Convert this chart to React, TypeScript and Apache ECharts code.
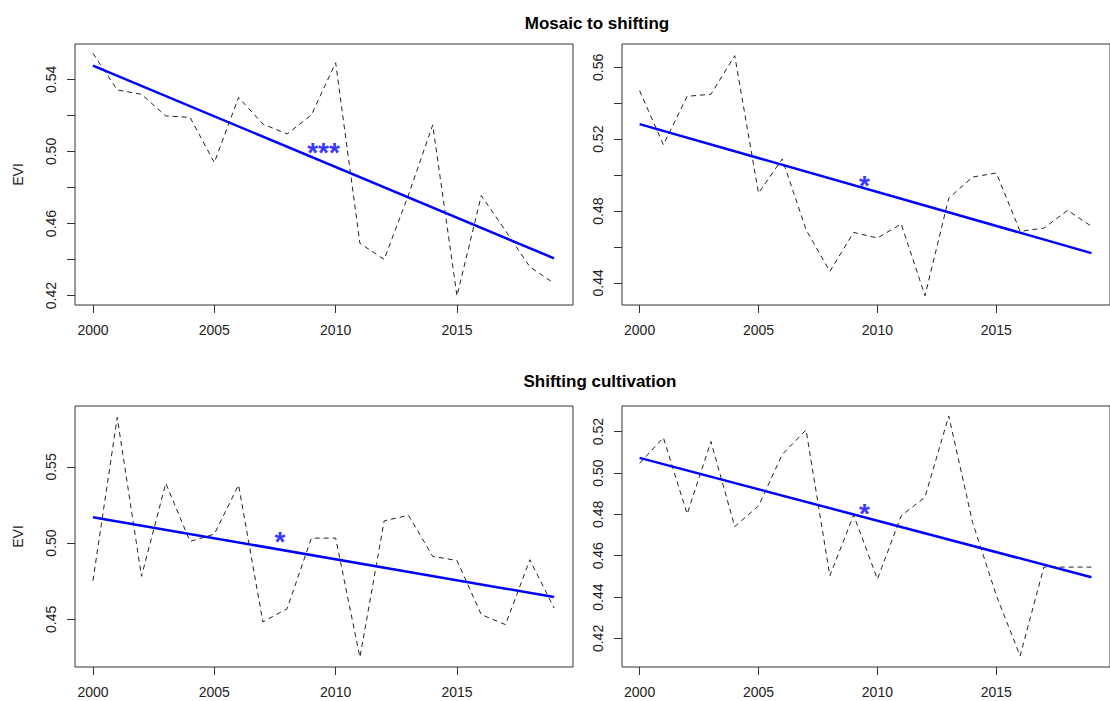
import React, { useEffect, useRef } from "react";
import * as echarts from "echarts";

const years = [2000, 2001, 2002, 2003, 2004, 2005, 2006, 2007, 2008, 2009, 2010, 2011, 2012, 2013, 2014, 2015, 2016, 2017, 2018, 2019];
const xTickYears = [2000, 2005, 2010, 2015];

const mosaicLeft = [0.5544, 0.5341, 0.5317, 0.5197, 0.5189, 0.4938, 0.53, 0.5152, 0.5097, 0.5202, 0.5492, 0.449, 0.4401, 0.4758, 0.5147, 0.4198, 0.4755, 0.456, 0.436, 0.4268];
const mosaicRight = [0.547, 0.5169, 0.5439, 0.545, 0.5665, 0.49, 0.509, 0.4696, 0.4464, 0.4681, 0.465, 0.4728, 0.4329, 0.4872, 0.4989, 0.5012, 0.4687, 0.4705, 0.4804, 0.4715];
const shiftLeft = [0.4753, 0.5825, 0.4782, 0.5393, 0.5011, 0.5059, 0.5382, 0.4483, 0.457, 0.5033, 0.5033, 0.4251, 0.5146, 0.5183, 0.4913, 0.4886, 0.4531, 0.4465, 0.4891, 0.4574];
const shiftRight = [0.5047, 0.5171, 0.4802, 0.5152, 0.4741, 0.4841, 0.509, 0.5208, 0.4503, 0.4797, 0.4487, 0.4793, 0.4883, 0.5276, 0.4762, 0.4408, 0.4116, 0.4545, 0.4545, 0.4545];

// trend line values at 2000 and 2019
const mosaicLeftTrend = [0.5476, 0.4407];
const mosaicRightTrend = [0.5284, 0.4566];
const shiftLeftTrend = [0.517, 0.4646];
const shiftRightTrend = [0.5073, 0.4496];

const sigLabels = ["***", "*", "*", "*"];
const sigPositions = [[2009.5, 0.503], [2009.45, 0.4975], [2007.7, 0.5048], [2009.45, 0.4834]];

const yRanges = [[0.4148, 0.5596], [0.4277, 0.573], [0.4187, 0.59], [0.4062, 0.5324]];
const yTicks = [
  [0.42, 0.44, 0.46, 0.48, 0.5, 0.52, 0.54],
  [0.44, 0.46, 0.48, 0.5, 0.52, 0.54, 0.56],
  [0.45, 0.5, 0.55],
  [0.42, 0.44, 0.46, 0.48, 0.5, 0.52],
];
const yLabels = [
  [0.42, 0.46, 0.5, 0.54],
  [0.44, 0.48, 0.52, 0.56],
  [0.45, 0.5, 0.55],
  [0.42, 0.44, 0.46, 0.48, 0.5, 0.52],
];
const titles = ["Mosaic to shifting", "Shifting cultivation"];
const yName = "EVI";

const FONT = '"Liberation Sans", Arial, sans-serif';

export default function App() {
  const ref = useRef<HTMLDivElement>(null);
  useEffect(() => {
    if (!ref.current) return;
    const chart = echarts.init(ref.current, null, { renderer: "svg" });
    const series = [mosaicLeft, mosaicRight, shiftLeft, shiftRight];
    const trends = [mosaicLeftTrend, mosaicRightTrend, shiftLeftTrend, shiftRightTrend];
    const lefts = [75, 622, 75, 622];
    const tops = [44, 44, 406, 406];
    const grid = lefts.map((l, i) => ({
      left: l,
      top: tops[i],
      width: 498,
      height: 261,
      show: true,
      borderColor: "#333",
      borderWidth: 1,
      backgroundColor: "transparent",
    }));
    const xAxis = lefts.map((_, i) => ({
      type: "value",
      gridIndex: i,
      min: 1999.26,
      max: 2019.78,
      splitLine: { show: false },
      axisLine: { show: false },
      axisTick: { show: true, length: 8, lineStyle: { color: "#333" }, customValues: xTickYears },
      axisLabel: {
        show: true,
        customValues: xTickYears,
        margin: 18,
        color: "#222",
        fontSize: 14,
        fontFamily: FONT,
        formatter: (v: number) => String(v),
      },
    }));
    const yAxis = lefts.map((_, i) => ({
      type: "value",
      gridIndex: i,
      min: yRanges[i][0],
      max: yRanges[i][1],
      splitLine: { show: false },
      axisLine: { show: false },
      name: i % 2 === 0 ? yName : "",
      nameLocation: "middle",
      nameGap: 50,
      nameRotate: 90,
      nameTextStyle: { color: "#222", fontSize: 14, fontFamily: FONT },
      axisTick: { show: true, length: 8, lineStyle: { color: "#333" }, customValues: yTicks[i] },
      axisLabel: {
        show: true,
        customValues: yLabels[i],
        rotate: 90,
        margin: 17,
        color: "#222",
        fontSize: 14,
        fontFamily: FONT,
        formatter: (v: number) => v.toFixed(2),
      },
    }));
    const s: any[] = [];
    series.forEach((vals, i) => {
      s.push({
        type: "line",
        xAxisIndex: i,
        yAxisIndex: i,
        data: years.map((y, k) => [y, vals[k]]),
        symbol: "none",
        lineStyle: { color: "#222", width: 1, type: [5, 4] },
        z: 2,
      });
      s.push({
        type: "line",
        xAxisIndex: i,
        yAxisIndex: i,
        data: [[years[0], trends[i][0]], [years[years.length - 1], trends[i][1]]],
        symbol: "none",
        lineStyle: { color: "#0000FF", width: 2.5 },
        z: 3,
      });
      s.push({
        type: "scatter",
        xAxisIndex: i,
        yAxisIndex: i,
        data: [sigPositions[i]],
        symbolSize: 1,
        itemStyle: { color: "rgba(0,0,0,0)" },
        label: {
          show: true,
          position: "inside",
          formatter: sigLabels[i],
          color: "#0000FF",
          fontSize: 28,
          fontWeight: "bold",
          fontFamily: FONT,
          offset: [0, 6],
        },
        z: 4,
      });
    });
    chart.setOption({
      animation: false,
      backgroundColor: "#fff",
      grid,
      xAxis,
      yAxis,
      series: s,
      graphic: [
        {
          type: "text",
          x: 597,
          y: 23,
          style: { text: titles[0], font: `bold 17px ${FONT}`, fill: "#000", textAlign: "center", textVerticalAlign: "middle" },
        },
        {
          type: "text",
          x: 600,
          y: 381,
          style: { text: titles[1], font: `bold 17px ${FONT}`, fill: "#000", textAlign: "center", textVerticalAlign: "middle" },
        },
      ],
    });
    return () => chart.dispose();
  }, []);
  return <div ref={ref} style={{ position: "fixed", left: 0, top: 0, width: 1110, height: 701 }} />;
}
